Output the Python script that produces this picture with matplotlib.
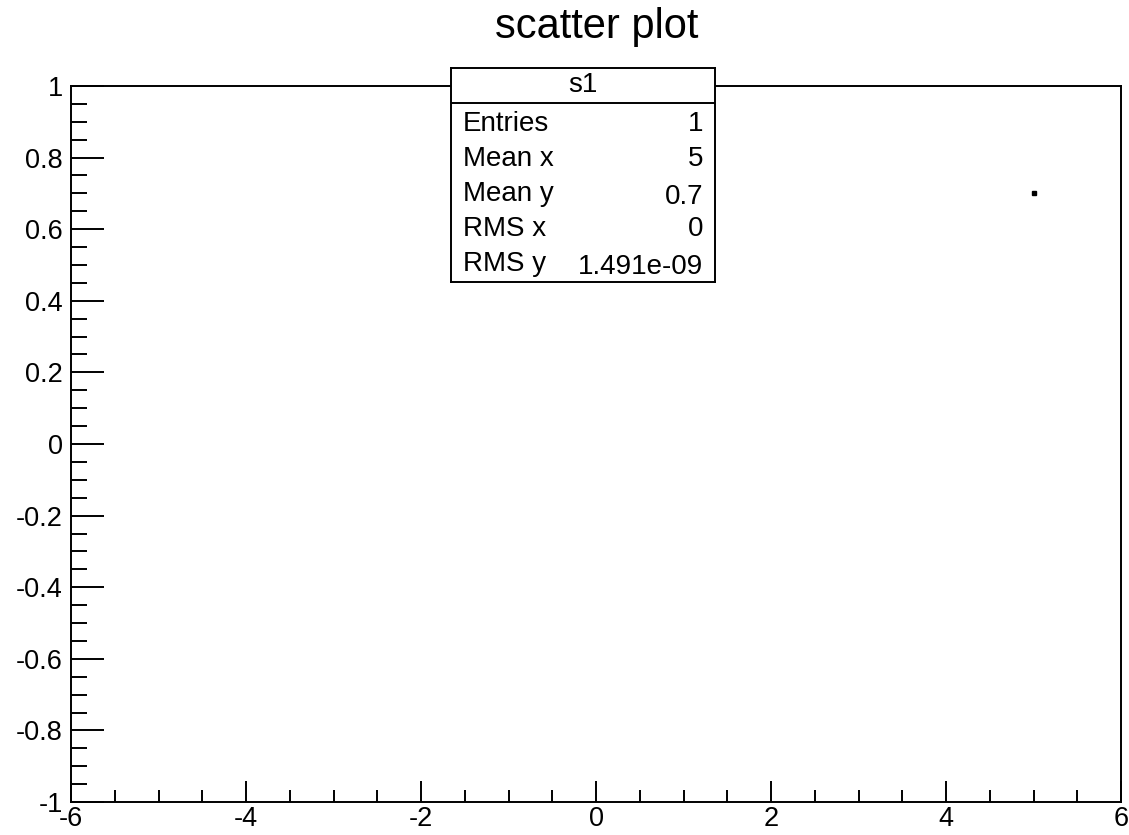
import numpy as np
import matplotlib
matplotlib.use("Agg")
import matplotlib.pyplot as plt
from matplotlib.ticker import MultipleLocator

plt.rcParams["font.family"] = ["Liberation Sans", "DejaVu Sans"]
plt.rcParams["axes.unicode_minus"] = False

# scatter points
x = [5.0]
y = [0.7]

# stats box contents
stat_name = "s1"
stat_labels = ["Entries", "Mean x", "Mean y", "RMS x", "RMS y"]
stat_values = ["1", "5", "0.7", "0", "1.491e-09"]

W, H = 1129, 835
fig = plt.figure(figsize=(W / 100, H / 100), dpi=100)
ax = fig.add_axes([71 / W, 1 - 802 / H, 1050 / W, 716 / H])

ax.plot(x, y, linestyle="none", marker="s", markersize=3.5, color="black")

ax.set_xlim(-6, 6)
ax.set_ylim(-1, 1)
ax.xaxis.set_major_locator(MultipleLocator(2))
ax.xaxis.set_minor_locator(MultipleLocator(0.5))
ax.yaxis.set_major_locator(MultipleLocator(0.2))
ax.yaxis.set_minor_locator(MultipleLocator(0.05))
ax.xaxis.set_major_formatter(plt.FuncFormatter(lambda v, p: f"{v:g}"))
ax.yaxis.set_major_formatter(plt.FuncFormatter(lambda v, p: f"{round(v, 2):g}"))

for s in ax.spines.values():
    s.set_linewidth(1.4)
ax.tick_params(axis="both", which="both", direction="in", width=1.4,
               top=False, right=False, labelsize=19.5)
ax.tick_params(axis="y", which="major", length=24, pad=6)
ax.tick_params(axis="y", which="minor", length=11.5)
ax.tick_params(axis="x", which="major", length=15, pad=3)
ax.tick_params(axis="x", which="minor", length=8.5)

fig.text(597 / W, 1 - 38 / H, "scatter plot", ha="center", va="baseline",
         fontsize=30)

# stats box drawn on top of the frame
sb = fig.add_axes([451 / W, 1 - 282 / H, 264 / W, 214 / H])
sb.set_xlim(0, 1)
sb.set_ylim(0, 1)
sb.set_xticks([])
sb.set_yticks([])
sb.set_facecolor("white")
for s in sb.spines.values():
    s.set_linewidth(1.4)
hdr = 1 - (103 - 68) / 214
sb.axhline(hdr, color="black", linewidth=1.4)
sb.text(0.5, (1 + hdr) / 2, stat_name, ha="center", va="center", fontsize=20)
for i, (lab, val) in enumerate(zip(stat_labels, stat_values)):
    yy = 1 - (124 + 35 * i - 68) / 214
    sb.text(0.045, yy, lab, ha="left", va="center", fontsize=20)
    sb.text(0.955, yy + (-0.012 if i in (2, 4) else 0), val,
            ha="right", va="center", fontsize=20)

fig.savefig("out.png", dpi=100, facecolor="white")
